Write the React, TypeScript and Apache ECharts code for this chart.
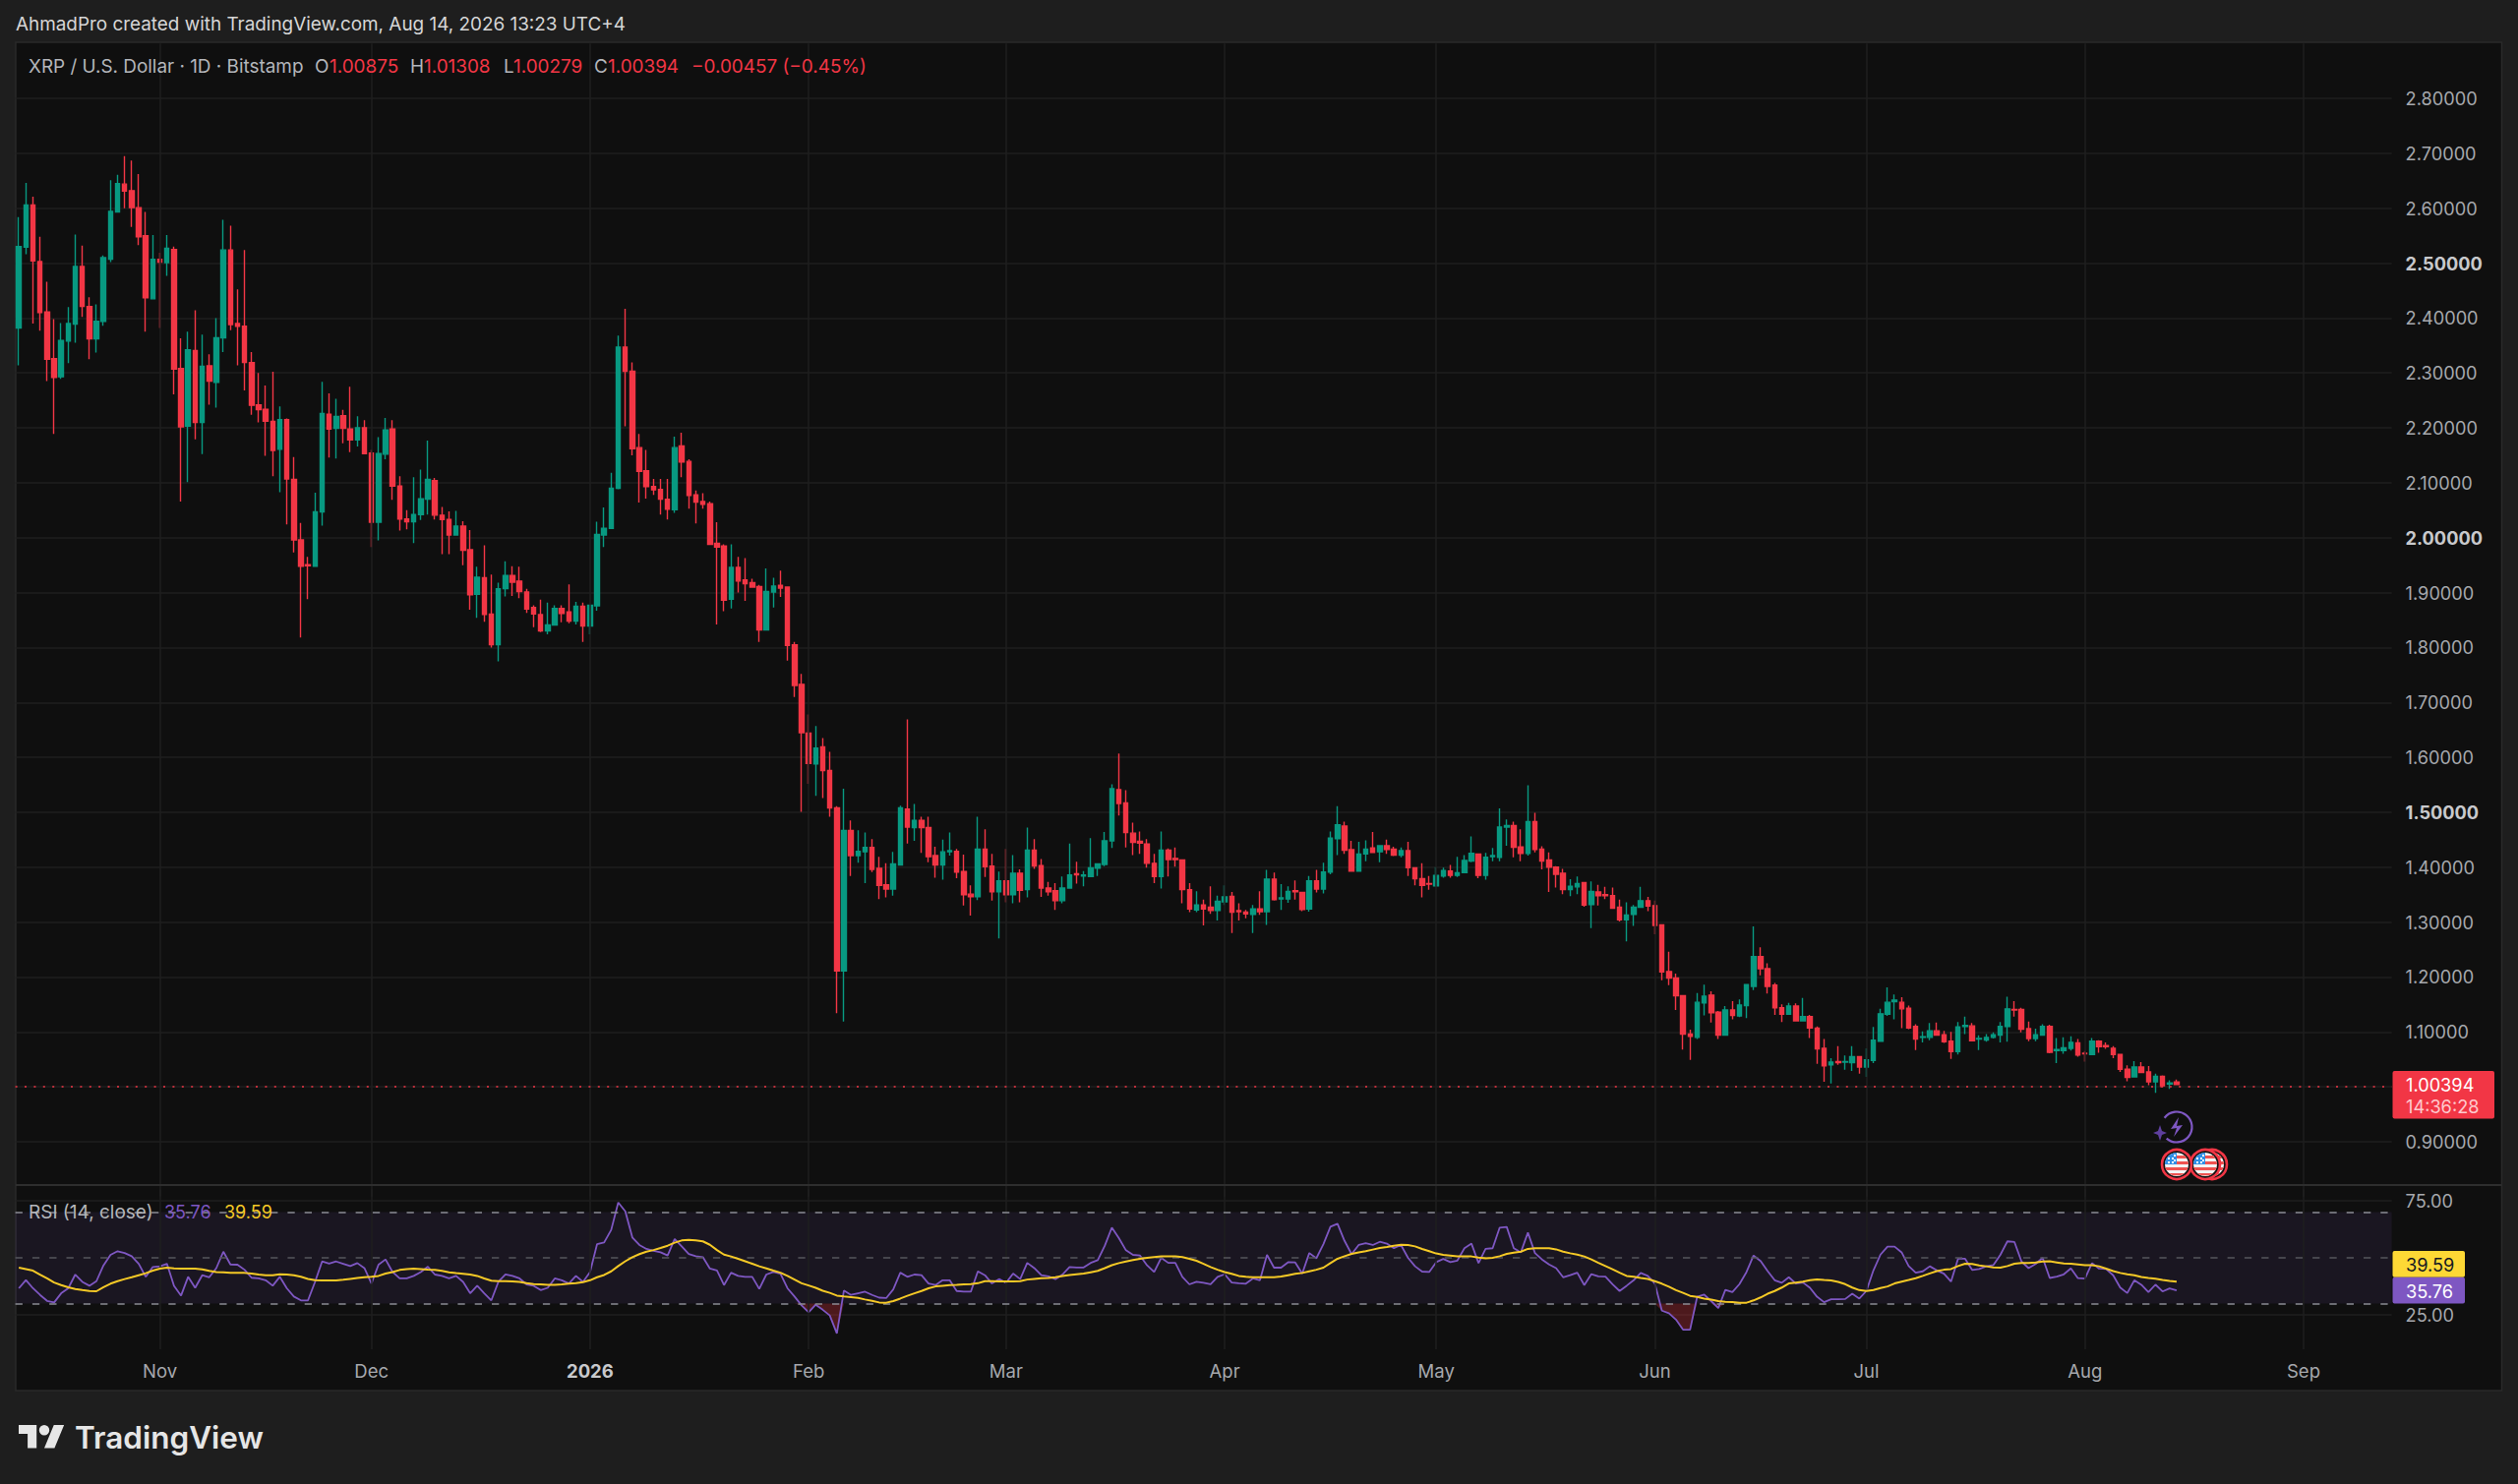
import React, { useEffect, useRef } from "react";
import * as echarts from "echarts";

const startDate = Date.UTC(2025, 9, 12);
const slotCount = 337;
const categories: string[] = [];
for (let k = 0; k < slotCount; k++) categories.push(new Date(startDate + k * 86400000).toISOString().slice(0, 10));

const monthTickIndex = [20, 50, 81, 112, 140, 171, 201, 232, 262, 293, 324];
const monthTickLabels = ["Nov", "Dec", "2026", "Feb", "Mar", "Apr", "May", "Jun", "Jul", "Aug", "Sep"];

const opens = [
2.382,2.529,2.606,2.503,2.411,2.326,2.293,2.358,2.389,2.494,
2.421,2.362,2.394,2.507,2.593,2.644,2.632,2.601,2.550,2.435,
2.507,2.501,2.525,2.308,2.203,2.341,2.210,2.313,2.283,2.364,
2.524,2.390,2.385,2.319,2.242,2.234,2.212,2.161,2.215,2.106,
1.996,1.951,1.948,2.047,2.225,2.199,2.222,2.198,2.178,2.200,
2.154,2.028,2.152,2.198,2.094,2.034,2.029,2.042,2.070,2.104,
2.041,2.033,2.005,2.021,1.978,1.897,1.927,1.861,1.805,1.907,
1.931,1.921,1.901,1.873,1.860,1.830,1.841,1.871,1.865,1.848,
1.875,1.839,1.876,2.005,2.017,2.090,2.347,2.303,2.164,2.122,
2.093,2.088,2.070,2.051,2.167,2.139,2.078,2.066,2.062,1.990,
1.985,1.888,1.946,1.923,1.918,1.911,1.832,1.901,1.913,1.910,
1.805,1.733,1.644,1.588,1.619,1.576,1.508,1.211,1.467,1.421,
1.428,1.436,1.398,1.368,1.360,1.404,1.506,1.472,1.485,1.472,
1.421,1.404,1.428,1.429,1.392,1.351,1.346,1.433,1.402,1.355,
1.375,1.350,1.389,1.359,1.431,1.403,1.362,1.357,1.339,1.362,
1.388,1.384,1.383,1.398,1.405,1.448,1.541,1.517,1.462,1.447,
1.442,1.407,1.383,1.431,1.416,1.413,1.359,1.322,1.331,1.327,
1.321,1.337,1.347,1.321,1.318,1.314,1.324,1.319,1.378,1.342,
1.342,1.357,1.354,1.324,1.375,1.360,1.391,1.452,1.475,1.432,
1.393,1.424,1.435,1.428,1.439,1.433,1.422,1.430,1.399,1.379,
1.370,1.366,1.384,1.393,1.385,1.390,1.411,1.424,1.385,1.419,
1.418,1.473,1.476,1.437,1.425,1.483,1.433,1.413,1.400,1.389,
1.359,1.364,1.372,1.332,1.355,1.350,1.348,1.327,1.304,1.314,
1.327,1.339,1.330,1.295,1.210,1.198,1.166,1.096,1.090,1.153,
1.167,1.136,1.094,1.140,1.129,1.148,1.183,1.237,1.215,1.185,
1.144,1.132,1.147,1.120,1.128,1.107,1.070,1.040,1.046,1.045,
1.044,1.055,1.036,1.048,1.083,1.132,1.155,1.154,1.143,1.110,
1.090,1.090,1.102,1.095,1.083,1.064,1.110,1.111,1.087,1.085,
1.090,1.094,1.110,1.141,1.141,1.106,1.088,1.094,1.110,1.066,
1.066,1.070,1.080,1.061,1.059,1.083,1.075,1.070,1.059,1.032,
1.018,1.036,1.027,1.009,1.019,1.005,1.00875];

const closes = [
2.530,2.606,2.504,2.410,2.325,2.292,2.359,2.390,2.494,2.421,
2.362,2.394,2.510,2.594,2.645,2.631,2.601,2.548,2.437,2.507,
2.502,2.527,2.307,2.202,2.342,2.210,2.312,2.285,2.364,2.524,
2.388,2.385,2.319,2.241,2.233,2.212,2.159,2.215,2.107,1.996,
1.948,1.949,2.047,2.226,2.198,2.221,2.199,2.178,2.200,2.153,
2.028,2.153,2.196,2.094,2.034,2.029,2.042,2.071,2.106,2.041,
2.033,2.005,2.021,1.977,1.896,1.928,1.860,1.805,1.907,1.931,
1.919,1.902,1.870,1.861,1.830,1.841,1.871,1.862,1.848,1.875,
1.839,1.877,2.006,2.017,2.090,2.347,2.303,2.162,2.121,2.093,
2.087,2.070,2.052,2.164,2.138,2.077,2.065,2.061,1.988,1.983,
1.886,1.946,1.921,1.916,1.910,1.832,1.902,1.912,1.908,1.804,
1.731,1.645,1.589,1.617,1.576,1.508,1.211,1.467,1.421,1.429,
1.436,1.396,1.367,1.360,1.406,1.508,1.473,1.485,1.472,1.419,
1.404,1.428,1.430,1.391,1.350,1.346,1.433,1.401,1.355,1.375,
1.350,1.389,1.358,1.431,1.402,1.362,1.355,1.339,1.362,1.386,
1.386,1.386,1.399,1.406,1.448,1.543,1.516,1.463,1.445,1.444,
1.407,1.383,1.431,1.414,1.414,1.359,1.324,1.331,1.324,1.321,
1.338,1.346,1.318,1.319,1.315,1.324,1.319,1.378,1.341,1.344,
1.356,1.355,1.323,1.375,1.360,1.391,1.453,1.477,1.431,1.393,
1.424,1.433,1.427,1.439,1.432,1.422,1.430,1.399,1.379,1.367,
1.369,1.385,1.394,1.385,1.390,1.412,1.425,1.385,1.418,1.421,
1.473,1.476,1.436,1.425,1.483,1.432,1.411,1.400,1.387,1.359,
1.365,1.370,1.331,1.356,1.348,1.348,1.325,1.304,1.313,1.327,
1.339,1.329,1.294,1.209,1.198,1.166,1.096,1.092,1.154,1.165,
1.135,1.094,1.140,1.130,1.149,1.186,1.237,1.215,1.183,1.144,
1.132,1.147,1.120,1.128,1.107,1.069,1.038,1.045,1.044,1.046,
1.055,1.036,1.049,1.085,1.133,1.154,1.158,1.142,1.107,1.087,
1.091,1.102,1.094,1.082,1.064,1.109,1.112,1.084,1.088,1.090,
1.095,1.110,1.142,1.140,1.105,1.088,1.095,1.110,1.063,1.068,
1.071,1.081,1.058,1.060,1.083,1.073,1.073,1.059,1.032,1.017,
1.036,1.026,1.009,1.019,1.002,1.007,1.00394];

const highs = [
2.584,2.646,2.621,2.548,2.466,2.398,2.391,2.420,2.552,2.532,
2.438,2.425,2.514,2.651,2.661,2.695,2.687,2.662,2.593,2.551,
2.519,2.551,2.530,2.363,2.375,2.414,2.370,2.334,2.400,2.579,
2.568,2.452,2.524,2.338,2.300,2.277,2.302,2.239,2.217,2.147,
2.027,1.965,2.082,2.284,2.263,2.253,2.233,2.275,2.221,2.214,
2.160,2.183,2.218,2.214,2.112,2.050,2.110,2.124,2.177,2.109,
2.056,2.048,2.049,2.030,2.014,1.947,1.986,1.933,1.918,1.957,
1.948,1.947,1.907,1.877,1.887,1.882,1.877,1.877,1.915,1.883,
1.882,1.878,2.029,2.055,2.118,2.368,2.417,2.319,2.189,2.160,
2.107,2.107,2.107,2.184,2.191,2.143,2.086,2.081,2.066,2.028,
1.988,1.988,1.965,1.963,1.925,1.914,1.944,1.927,1.940,1.910,
1.810,1.752,1.678,1.657,1.635,1.610,1.511,1.543,1.485,1.467,
1.463,1.451,1.419,1.407,1.428,1.512,1.669,1.515,1.492,1.492,
1.437,1.450,1.463,1.433,1.423,1.367,1.492,1.469,1.424,1.392,
1.433,1.422,1.396,1.472,1.451,1.415,1.373,1.371,1.383,1.443,
1.410,1.393,1.453,1.407,1.464,1.551,1.607,1.540,1.481,1.465,
1.451,1.424,1.465,1.434,1.436,1.414,1.371,1.356,1.341,1.365,
1.348,1.367,1.355,1.334,1.322,1.331,1.356,1.395,1.390,1.369,
1.365,1.376,1.355,1.384,1.395,1.408,1.465,1.511,1.483,1.448,
1.446,1.449,1.464,1.440,1.450,1.437,1.436,1.446,1.400,1.407,
1.384,1.400,1.399,1.404,1.419,1.422,1.456,1.425,1.426,1.435,
1.507,1.487,1.483,1.469,1.549,1.499,1.438,1.427,1.402,1.397,
1.378,1.383,1.373,1.374,1.368,1.364,1.363,1.341,1.336,1.331,
1.364,1.346,1.339,1.295,1.246,1.206,1.167,1.104,1.171,1.186,
1.174,1.138,1.147,1.156,1.159,1.186,1.292,1.254,1.225,1.189,
1.150,1.153,1.152,1.162,1.131,1.110,1.087,1.052,1.074,1.057,
1.074,1.055,1.070,1.109,1.142,1.181,1.168,1.163,1.148,1.114,
1.101,1.116,1.117,1.102,1.100,1.118,1.128,1.116,1.094,1.096,
1.099,1.118,1.164,1.156,1.144,1.119,1.106,1.114,1.113,1.089,
1.090,1.092,1.087,1.065,1.089,1.085,1.081,1.074,1.060,1.039,
1.047,1.045,1.038,1.024,1.021,1.012,1.01308];

const lows = [
2.314,2.516,2.390,2.377,2.285,2.189,2.289,2.318,2.355,2.402,
2.325,2.337,2.386,2.502,2.592,2.600,2.566,2.533,2.375,2.434,
2.382,2.477,2.261,2.066,2.101,2.179,2.152,2.242,2.237,2.338,
2.378,2.314,2.268,2.224,2.210,2.149,2.112,2.083,2.024,1.973,
1.818,1.888,1.948,2.022,2.146,2.144,2.172,2.156,2.166,2.152,
1.983,1.995,2.143,2.069,2.013,2.015,1.990,2.032,2.042,2.033,
1.970,1.970,2.005,1.950,1.869,1.854,1.847,1.800,1.775,1.893,
1.894,1.890,1.863,1.837,1.828,1.824,1.840,1.846,1.844,1.842,
1.810,1.824,1.867,1.983,2.016,2.088,2.203,2.150,2.064,2.071,
2.078,2.042,2.033,2.045,2.110,2.053,2.026,2.053,1.987,1.842,
1.866,1.871,1.900,1.885,1.909,1.810,1.832,1.873,1.892,1.776,
1.710,1.501,1.552,1.530,1.526,1.492,1.134,1.119,1.384,1.408,
1.371,1.391,1.342,1.345,1.348,1.404,1.443,1.448,1.426,1.409,
1.381,1.377,1.421,1.380,1.330,1.312,1.340,1.382,1.339,1.270,
1.336,1.334,1.336,1.345,1.397,1.346,1.348,1.322,1.334,1.361,
1.370,1.365,1.382,1.384,1.402,1.435,1.494,1.436,1.422,1.424,
1.399,1.371,1.361,1.383,1.401,1.334,1.318,1.318,1.294,1.315,
1.303,1.331,1.280,1.303,1.307,1.280,1.313,1.295,1.339,1.322,
1.335,1.341,1.320,1.319,1.354,1.352,1.387,1.422,1.424,1.393,
1.393,1.411,1.427,1.409,1.424,1.420,1.418,1.384,1.367,1.345,
1.359,1.364,1.381,1.381,1.382,1.390,1.409,1.380,1.377,1.411,
1.411,1.439,1.418,1.411,1.421,1.427,1.396,1.355,1.363,1.351,
1.347,1.351,1.328,1.289,1.330,1.342,1.324,1.301,1.265,1.293,
1.326,1.320,1.278,1.194,1.185,1.140,1.068,1.049,1.087,1.130,
1.117,1.087,1.094,1.123,1.127,1.125,1.176,1.203,1.170,1.131,
1.118,1.132,1.120,1.120,1.089,1.042,1.009,1.006,1.040,1.031,
1.029,1.024,1.018,1.043,1.082,1.129,1.123,1.107,1.105,1.067,
1.081,1.085,1.093,1.080,1.051,1.059,1.096,1.083,1.067,1.082,
1.088,1.081,1.082,1.128,1.099,1.083,1.083,1.094,1.061,1.043,
1.060,1.066,1.055,1.046,1.059,1.062,1.069,1.052,1.027,1.010,
1.017,1.026,1.003,0.989,0.999,0.996,1.00279];

const rsiValues = [
36.7,40.3,36.7,33.8,31.2,30.5,34.5,36.7,42.7,39.5,
37.8,39.8,46.7,51.3,52.9,52.1,50.7,47.4,41.7,46.0,
46.3,47.4,37.8,33.5,41.7,36.9,42.4,41.5,45.5,52.7,
47.1,47.0,44.8,41.3,41.0,40.2,37.8,41.7,36.7,33.1,
31.4,31.4,39.5,48.4,47.5,48.4,47.4,46.4,47.7,45.5,
38.8,47.0,49.3,43.8,41.0,41.0,42.1,43.8,46.1,42.7,
42.1,41.0,42.1,39.5,34.5,37.8,34.5,31.4,39.5,42.8,
42.1,41.0,38.4,37.8,35.9,36.9,41.0,40.2,38.8,42.1,
39.5,43.8,56.0,56.7,62.2,74.2,70.3,58.9,55.6,53.9,
53.1,52.4,51.0,58.2,55.0,51.7,50.7,50.3,45.3,44.5,
38.1,43.5,42.1,41.7,41.7,36.4,42.7,43.8,43.1,36.7,
33.1,29.2,26.2,29.5,27.3,24.8,17.0,35.7,33.8,34.5,
35.2,33.8,32.6,32.4,36.2,43.5,41.7,42.7,42.4,38.8,
38.1,40.2,40.2,35.5,35.2,35.2,44.1,42.4,38.8,40.7,
39.1,43.1,40.7,47.8,45.5,42.4,41.9,40.7,42.7,46.0,
45.8,45.8,47.8,49.0,55.3,63.2,58.6,53.3,51.3,51.0,
46.7,43.8,50.0,47.8,47.8,41.7,38.4,39.5,39.1,38.5,
41.7,42.8,39.2,38.9,38.7,41.0,40.2,51.3,45.7,45.7,
48.1,48.0,43.1,52.1,49.8,56.0,63.6,64.9,57.4,51.6,
55.6,56.4,55.6,57.0,56.2,54.2,55.6,50.0,46.3,44.0,
43.8,48.1,49.5,48.1,48.8,54.2,56.2,47.7,53.9,54.2,
63.2,63.5,54.2,52.4,61.0,52.1,49.3,47.1,45.5,41.5,
42.4,43.5,38.1,42.9,41.9,41.8,38.5,35.5,37.8,40.2,
43.4,42.1,38.8,26.9,25.8,23.0,18.6,18.6,33.0,33.9,
31.1,28.0,36.0,35.0,38.5,43.8,51.0,48.6,44.2,40.2,
39.1,41.5,38.8,39.2,36.9,33.0,30.6,31.9,31.9,32.0,
34.3,32.2,35.5,44.5,51.4,54.9,54.9,52.4,46.4,43.5,
44.1,46.3,44.5,43.1,39.6,49.6,49.6,44.7,45.1,46.3,
46.8,51.3,57.2,56.9,48.4,45.5,47.3,50.0,41.2,41.8,
42.8,45.4,41.1,40.9,47.7,45.3,45.1,42.4,37.0,34.6,
40.2,38.2,35.0,38.3,35.3,36.6,35.76];

const rsiMaValues = [
45.7,45.1,44.4,42.7,41.0,39.2,38.1,37.1,36.4,35.9,
35.5,35.4,37.2,38.7,39.8,40.7,41.5,42.4,43.3,44.4,
45.3,45.7,45.4,45.3,45.3,45.3,45.0,44.3,43.8,43.7,
43.5,43.5,43.4,43.1,42.7,42.4,42.4,42.8,42.7,42.4,
41.7,40.8,40.2,40.1,40.1,40.1,40.4,40.8,41.2,41.5,
41.7,42.1,43.1,43.8,44.7,45.1,45.3,45.1,44.8,44.7,
44.3,43.7,43.3,43.0,42.7,42.1,41.0,40.0,39.8,39.8,
39.7,39.5,38.9,38.5,38.4,38.2,38.2,38.4,38.7,38.9,
39.4,40.2,41.5,42.5,44.1,46.4,48.5,50.3,51.6,52.7,
53.4,54.3,55.3,56.6,57.6,57.9,57.6,57.2,55.7,53.4,
51.4,50.6,49.6,48.5,47.4,46.3,45.4,44.4,43.5,42.1,
40.5,38.9,37.9,36.9,35.6,34.7,33.5,33.1,32.8,32.5,
31.8,31.2,30.5,30.4,31.1,32.2,33.4,34.5,35.5,36.7,
37.5,37.8,38.1,38.2,38.4,38.5,38.9,39.8,39.8,39.7,
39.7,39.7,39.8,40.5,40.8,41.1,41.2,41.5,42.1,42.5,
42.8,43.1,43.7,44.3,45.5,46.8,47.7,48.4,49.0,49.6,
50.0,50.3,50.6,50.7,50.7,50.3,49.6,48.7,47.4,46.0,
44.8,43.8,43.0,42.1,41.7,41.5,41.5,41.5,41.5,41.8,
42.4,43.0,43.4,44.1,44.8,45.7,47.7,49.6,50.7,51.7,
52.4,52.9,53.6,54.3,54.7,55.3,55.7,55.6,55.0,53.9,
52.9,51.9,51.3,51.0,50.7,50.7,50.6,50.1,49.8,50.0,
50.7,51.7,52.3,52.7,53.9,54.2,54.2,54.2,53.7,52.7,
52.0,51.4,50.6,49.3,47.8,46.4,45.0,43.5,42.1,41.7,
41.2,40.8,39.8,38.7,37.4,35.9,34.7,33.4,32.9,32.2,
31.7,31.1,30.8,30.7,30.3,30.4,31.4,32.7,34.3,35.5,
37.0,38.8,39.2,39.6,40.2,40.6,40.3,40.1,39.5,38.5,
37.0,35.9,35.5,35.9,36.8,37.5,38.8,39.6,40.3,41.1,
42.1,43.2,44.2,44.8,45.1,46.4,47.4,47.3,46.7,46.3,
45.8,45.7,46.4,47.4,47.8,47.8,48.0,48.4,48.5,48.0,
47.5,47.4,47.1,46.8,46.8,46.3,45.3,44.2,43.4,42.8,
42.4,41.6,41.2,40.9,40.3,39.9,39.59];

const lastPrice = 1.00394;
const rsiLevels = [70, 50, 30];
const boldPriceTicks = [15, 20, 25];
const hiddenPriceTicks = [8, 10, 29];

const UP = "#089981";
const DOWN = "#f23645";
const PURPLE = "#7e57c2";
const YELLOW = "#f5c926";
const GRID = "#1f1f1f";
const AXIS_TEXT = "#a6a8ad";
const FONT = "Inter";

function toolbar() {
  const t = (text: string, x: number, y: number, fill: string, size = 18.9, weight = 400) => ({
    type: "text", x, y, z: 50,
    style: { text, fill, font: `${weight} ${size}px ${FONT}`, verticalAlign: "middle", align: "left" },
  });
  const flag = (cx: number, cy: number, z: number) => ([
    { type: "circle", z, shape: { cx, cy, r: 15 }, style: { fill: "#141414", stroke: DOWN, lineWidth: 2.6 } },
    { type: "circle", z: z + 1, shape: { cx, cy, r: 12 }, style: { fill: "#f4f4f4" } },
    { type: "usRed", z: z + 2, x: cx, y: cy, style: { fill: "#ef5350" } },
    { type: "usBlue", z: z + 2, x: cx, y: cy, style: { fill: "#2f8fe6" } },
    { type: "usStars", z: z + 3, x: cx, y: cy, style: { fill: "#ffffff" } },
  ]);
  return [
    { type: "rect", z: -5, shape: { x: 16, y: 43, width: 2527.5, height: 1371 }, style: { fill: "#0f0f0f", stroke: "#2a2a2a", lineWidth: 1.5 } },
    { type: "line", z: 40, shape: { x1: 16, y1: 1205, x2: 2543, y2: 1205 }, style: { stroke: "#2e2e2e", lineWidth: 2 } },

    t("AhmadPro created with TradingView.com, Aug 14, 2026 13:23 UTC+4", 16, 24, "#d6d6d6"),
    t("XRP / U.S. Dollar · 1D · Bitstamp", 29, 67, "#b4b6bb"),
    t("O", 320, 67, "#b4b6bb"), t("1.00875", 335, 67, DOWN),
    t("H", 417, 67, "#b4b6bb"), t("1.01308", 431, 67, DOWN),
    t("L", 512, 67, "#b4b6bb"), t("1.00279", 522, 67, DOWN),
    t("C", 604, 67, "#b4b6bb"), t("1.00394", 618, 67, DOWN),
    t("−0.00457 (−0.45%)", 703, 67, DOWN),

    t("RSI (14, close)", 29, 1232, "#b4b6bb", 19),
    t("35.76", 167, 1232, PURPLE, 18),
    t("39.59", 228, 1232, YELLOW, 18),

    { type: "rect", z: 45, shape: { x: 2432.5, y: 1089, width: 103.5, height: 48.5, r: 2 }, style: { fill: DOWN } },
    t("1.00394", 2446, 1103, "#ffffff", 18.2),
    t("14:36:28", 2446, 1125, "#ffc9cd", 18.2),
    { type: "rect", z: 45, shape: { x: 2432.5, y: 1272, width: 73.5, height: 26.8, r: 2 }, style: { fill: "#fdd835" } },
    t("39.59", 2446, 1285.5, "#131722", 18.2),
    { type: "rect", z: 45, shape: { x: 2432.5, y: 1298.8, width: 73.5, height: 26.8, r: 2 }, style: { fill: PURPLE } },
    t("35.76", 2446, 1312.5, "#ffffff", 18.2),

    { type: "arc", z: 30, shape: { cx: 2213, cy: 1146, r: 15.5, startAngle: -2.5, endAngle: 2.3, clockwise: true }, style: { stroke: "#7e57c2", lineWidth: 2.2, fill: "none" } },
    { type: "polygon", z: 30, shape: { points: [[2215, 1136], [2207, 1148], [2213, 1147], [2210, 1156], [2219, 1144], [2213, 1145]] }, style: { fill: "#7e57c2" } },
    { type: "polygon", z: 31, shape: { points: [[2196, 1144], [2198, 1150], [2203, 1152], [2198, 1154], [2196, 1160], [2194, 1154], [2189, 1152], [2194, 1150]] }, style: { fill: "#5e3f9e" } },
    ...flag(2249, 1184, 32),
    ...flag(2242, 1184, 36),
    ...flag(2213, 1184, 40),

    { type: "tvLogo", z: 50, x: 19, y: 1443.8, scaleX: 1.3, scaleY: 1.3, style: { fill: "#e6e6e6" } },
    t("TradingView", 76, 1461, "#e6e6e6", 31.5, 600),
  ];
}

export default function App() {
  const ref = useRef<HTMLDivElement>(null);
  useEffect(() => {
    document.body.style.margin = "0";
    document.body.style.background = "#1e1e1e";
    echarts.graphic.registerShape("tvLogo", echarts.graphic.extendPath("M14 22H7V11H0V4h14v18zM28 22h-8l7.5-18h8L28 22zM16 8a4 4 0 1 0 8 0a4 4 0 1 0 -8 0Z", {}));
    echarts.graphic.registerShape("usRed", echarts.graphic.extendPath("M0 -9 L8 -9 L10.4 -6 L0 -6ZM0 -3 L11.6 -3 L12 0 L0 0ZM-11.9 3 L11.6 3 L10.4 6 L-10.4 6ZM-8 9 L8 9 L4 11.3 L-4 11.3Z", {}));
    echarts.graphic.registerShape("usBlue", echarts.graphic.extendPath("M0 0 L-12 0 A12 12 0 0 1 0 -12 Z", {}));
    echarts.graphic.registerShape("usStars", echarts.graphic.extendPath("M-9 -3h2v2h-2zM-5 -3h2v2h-2zM-9 -7h2v2h-2zM-5 -7h2v2h-2zM-3 -10h2v2h-2zM-3 -5h2v2h-2z", {}));

    const chart = echarts.init(ref.current!, undefined, { renderer: "svg" });
    const monthLabelByDate: Record<string, string> = {};
    monthTickIndex.forEach((k, n) => { monthLabelByDate[categories[k]] = monthTickLabels[n]; });
    const monthLines = monthTickIndex.map((k) => ({ xAxis: categories[k], lineStyle: { color: GRID, width: 1.5, type: "solid" } }));
    const priceLineColors: string[] = [];
    for (let v = 8; v <= 29; v++) priceLineColors.push(v === 8 || v === 29 ? "transparent" : GRID);
    const rsiLineColors: string[] = [];
    for (let v = 10; v <= 80; v += 5) rsiLineColors.push(v === 25 || v === 75 ? GRID : "transparent");

    chart.setOption({
      animation: false,
      backgroundColor: "#1e1e1e",
      textStyle: { fontFamily: FONT },
      grid: [
        { left: 15.6, width: 2416, top: 44.2, height: 1172.6 },
        { left: 15.6, width: 2416, top: 1209.2, height: 162.9 },
      ],
      xAxis: [
        { type: "category", gridIndex: 0, data: categories, boundaryGap: true, axisLine: { show: false }, axisTick: { show: false }, axisLabel: { show: false }, splitLine: { show: false } },
        {
          type: "category", gridIndex: 1, data: categories, boundaryGap: true,
          axisLine: { show: false }, axisTick: { show: false }, splitLine: { show: false },
          axisLabel: {
            show: true, margin: 12, fontSize: 18.5, fontFamily: FONT, color: AXIS_TEXT, hideOverlap: false,
            interval: (_: number, value: string) => value in monthLabelByDate,
            formatter: (value: string) => {
              const label = monthLabelByDate[value] || "";
              return label === "2026" ? `{b|${label}}` : label;
            },
            rich: { b: { fontSize: 18.5, fontWeight: 700, fontFamily: FONT, color: "#c8c9cc" } },
          },
        },
      ],
      yAxis: [
        {
          type: "value", gridIndex: 0, position: "right", min: 0.8, max: 2.9, interval: 0.1, scale: true,
          axisLine: { show: false }, axisTick: { show: false },
          splitLine: { show: true, lineStyle: { color: priceLineColors, width: 1.5 } },
          axisLabel: {
            margin: 14, fontSize: 18.2, fontFamily: FONT, color: AXIS_TEXT,
            formatter: (v: number) => {
              const key = Math.round(v * 10);
              if (hiddenPriceTicks.includes(key)) return "";
              return boldPriceTicks.includes(key) ? `{b|${v.toFixed(5)}}` : v.toFixed(5);
            },
            rich: { b: { fontSize: 18.2, fontWeight: 700, fontFamily: FONT, color: "#c8c9cc" } },
          },
        },
        {
          type: "value", gridIndex: 1, position: "right", min: 10, max: 80, interval: 5,
          axisLine: { show: false }, axisTick: { show: false },
          splitLine: { show: true, lineStyle: { color: rsiLineColors, width: 1.5 } },
          axisLabel: {
            margin: 14, fontSize: 18.2, fontFamily: FONT, color: AXIS_TEXT,
            formatter: (v: number) => (v === 25 || v === 75 ? v.toFixed(2) : ""),
          },
        },
      ],
      series: [
        {
          name: "grid", type: "line", xAxisIndex: 0, yAxisIndex: 0, z: 1, data: categories.map(() => null), silent: true,
          markLine: { silent: true, symbol: "none", label: { show: false }, animation: false, data: monthLines },
        },
        {
          name: "XRP", type: "candlestick", xAxisIndex: 0, yAxisIndex: 0, z: 3, barWidth: 5, silent: true,
          data: opens.map((o, k) => [o, closes[k], lows[k], highs[k]]),
          itemStyle: { color: UP, color0: DOWN, borderColor: UP, borderColor0: DOWN, borderWidth: 1.4 },
          markLine: {
            silent: true, symbol: "none", label: { show: false }, animation: false,
            data: [{ yAxis: lastPrice, lineStyle: { color: DOWN, width: 1.5, type: [2, 7.4] } }],
          },
        },
        {
          name: "rsiGrid", type: "line", xAxisIndex: 1, yAxisIndex: 1, z: 1, data: categories.map(() => null), silent: true,
          markLine: { silent: true, symbol: "none", label: { show: false }, animation: false, data: monthLines },
        },
        {
          name: "rsiBand", type: "line", xAxisIndex: 1, yAxisIndex: 1, z: 2, data: categories.map(() => null), silent: true,
          markArea: { silent: true, itemStyle: { color: "rgba(126,87,194,0.1)" }, data: [[{ yAxis: rsiLevels[0] }, { yAxis: rsiLevels[2] }]] },
          markLine: {
            silent: true, symbol: "none", label: { show: false }, animation: false,
            data: rsiLevels.map((v) => ({ yAxis: v, lineStyle: { color: v === 50 ? "#55555c" : "#8a8c94", width: 1.5, type: [7.3, 10] } })),
          },
        },
        {
          name: "oversold", type: "line", xAxisIndex: 1, yAxisIndex: 1, z: 3, showSymbol: false, silent: true,
          data: rsiValues.map((v) => Math.min(v, rsiLevels[2])),
          lineStyle: { width: 0 },
          areaStyle: { origin: rsiLevels[2], color: "rgba(242,54,69,0.4)" },
        },
        {
          name: "RSI", type: "line", xAxisIndex: 1, yAxisIndex: 1, z: 4, showSymbol: false, silent: true, data: rsiValues,
          lineStyle: { color: PURPLE, width: 1.8 },
        },
        {
          name: "RSI MA", type: "line", xAxisIndex: 1, yAxisIndex: 1, z: 5, showSymbol: false, silent: true, data: rsiMaValues,
          lineStyle: { color: YELLOW, width: 2 },
        },
      ],
      graphic: { elements: toolbar() },
    });
    return () => chart.dispose();
  }, []);
  return <div ref={ref} style={{ width: 2560, height: 1509 }} />;
}
